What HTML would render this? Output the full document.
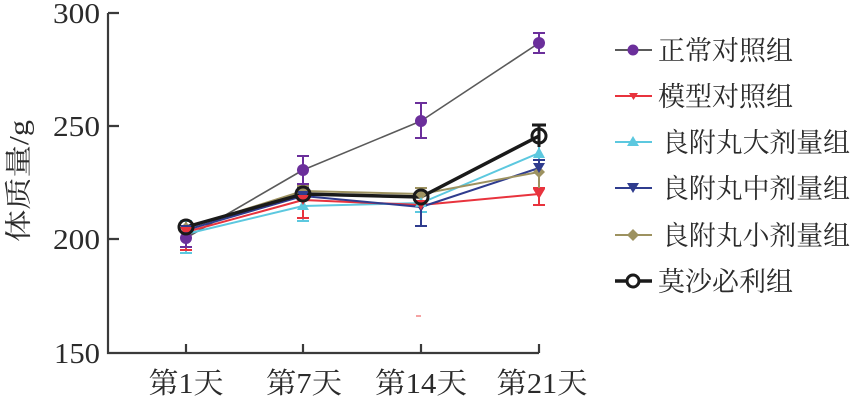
<!DOCTYPE html>
<html><head><meta charset="utf-8"><style>
html,body{margin:0;padding:0;background:#fff;}
svg{display:block;}
text{font-family:"Liberation Serif","Noto Serif CJK SC",serif;fill:#2b2b2b;}
</style></head><body>
<svg width="850" height="401" viewBox="0 0 850 401" xmlns="http://www.w3.org/2000/svg">
<!-- axes -->
<g stroke="#3a3a3a" stroke-width="2.2" fill="none">
<path d="M108 13 V353 H539"/>
<path d="M108 13 H119 M108 126 H119 M108 239 H119"/>
<path d="M186 353 V344 M303 353 V344 M421 353 V344 M539 353 V344"/>
</g>
<!-- y tick labels -->
<g font-size="28" text-anchor="end">
<text x="100" y="23" textLength="47" lengthAdjust="spacingAndGlyphs">300</text>
<text x="100" y="136" textLength="47" lengthAdjust="spacingAndGlyphs">250</text>
<text x="100" y="249" textLength="47" lengthAdjust="spacingAndGlyphs">200</text>
<text x="100" y="363" textLength="46" lengthAdjust="spacingAndGlyphs">150</text>
</g>
<!-- y label -->
<text transform="translate(28,181) rotate(-90)" font-size="27" text-anchor="middle" textLength="122" lengthAdjust="spacingAndGlyphs">体质量/g</text>
<!-- x labels -->
<g font-size="29" text-anchor="middle">
<text x="186" y="393" textLength="75" lengthAdjust="spacingAndGlyphs">第1天</text>
<text x="304" y="393" textLength="76" lengthAdjust="spacingAndGlyphs">第7天</text>
<text x="421" y="393" textLength="92" lengthAdjust="spacingAndGlyphs">第14天</text>
<text x="542" y="393" textLength="91" lengthAdjust="spacingAndGlyphs">第21天</text>
</g>
<!-- stray mark -->
<path d="M416 316 H421" stroke="#e66" stroke-width="1.2"/>

<!-- error bars -->
<g stroke-width="2" fill="none">
<!-- cyan -->
<path stroke="#5cc8df" d="M186 221 V253 M180 221 H192 M180 253 H192 M303 205 V221 M297 221 H309 M421 195 V212 M415 212 H427 M539 140 V165"/>
<!-- red -->
<path stroke="#e8333d" d="M186 232 V250 M180 250 H192 M303 200 V218 M297 218 H309 M539 188 V205 M533 188 H545 M533 205 H545"/>
<!-- navy -->
<path stroke="#2f3c8e" d="M186 224 V236 M303 188 V204 M297 188 H309 M421 190 V226 M415 226 H427 M539 160 V178 M533 160 H545"/>
<!-- khaki -->
<path stroke="#9d9260" d="M186 222 V234 M303 186 V198 M297 186 H309 M421 188 V200 M415 188 H427 M539 164 V188"/>
<!-- purple -->
<path stroke="#6b2f9b" d="M186 231 V247 M180 247 H192 M303 156 V184 M297 156 H309 M297 184 H309 M421 103 V138 M415 103 H427 M415 138 H427 M539 33 V53 M533 33 H545 M533 53 H545"/>
<!-- black -->
<path stroke="#1a1a1a" stroke-width="3" d="M539 125 V147 M532 125 H546"/>
</g>

<!-- series lines -->
<g fill="none" stroke-linejoin="round">
<polyline stroke="#5a5a5a" stroke-width="1.6" points="186,238 303,170 421,121 539,43"/>
<polyline stroke="#5cc8df" stroke-width="2" points="186,234 303,206 421,203 539,153"/>
<polyline stroke="#e8333d" stroke-width="2" points="186,232 303,200 421,205 539,194"/>
<polyline stroke="#2f3c8e" stroke-width="2" points="186,230 303,196 421,207 539,168"/>
<polyline stroke="#9d9260" stroke-width="2" points="186,228 303,191 421,194 539,172"/>
<polyline stroke="#1a1a1a" stroke-width="3.5" points="186,227 303,194 421,197 539,136"/>
</g>

<!-- markers -->
<g>
<!-- khaki diamonds -->
<g fill="#9d9260">
<path d="M186 222 l6 6 l-6 6 l-6 -6z"/><path d="M303 185 l6 6 l-6 6 l-6 -6z"/><path d="M421 188 l6 6 l-6 6 l-6 -6z"/><path d="M539 166 l6 6 l-6 6 l-6 -6z"/>
</g>
<!-- navy down triangles -->
<g fill="#2f3c8e">
<path d="M180 225 H192 L186 235z"/><path d="M297 191 H309 L303 201z"/><path d="M415 202 H427 L421 212z"/><path d="M533 163 H545 L539 173z"/>
</g>
<!-- cyan up triangles -->
<g fill="#5cc8df">
<path d="M186 228 L192 238 H180z"/><path d="M303 200 L309 210 H297z"/><path d="M421 197 L427 207 H415z"/><path d="M539 147 L545 158 H533z"/>
</g>
<!-- red down triangles -->
<g fill="#e8333d">
<path d="M180 227 H192 L186 237z"/><path d="M297 195 H309 L303 205z"/><path d="M415 200 H427 L421 210z"/><path d="M533 189 H545 L539 199z"/>
</g>
<!-- purple circles -->
<g fill="#6b2f9b">
<circle cx="186" cy="238" r="6"/><circle cx="303" cy="170" r="6"/><circle cx="421" cy="121" r="6"/><circle cx="539" cy="43" r="6"/>
</g>
<!-- black open circles -->
<g fill="none" stroke="#1a1a1a" stroke-width="3">
<circle cx="186" cy="227" r="7"/><circle cx="303" cy="194" r="7"/><circle cx="421" cy="197" r="7"/><circle cx="539" cy="136" r="7"/>
</g>
</g>

<!-- legend -->
<g>
<path d="M615 50 H652" stroke="#5a5a5a" stroke-width="2"/><circle cx="633" cy="50" r="5.5" fill="#6b2f9b"/>
<path d="M615 96 H652" stroke="#e8333d" stroke-width="2"/><path d="M629 93 H638 L633.5 100z" fill="#e8333d"/>
<path d="M615 142 H652" stroke="#5cc8df" stroke-width="2"/><path d="M633 136 L639 146 H627z" fill="#5cc8df"/>
<path d="M615 188 H652" stroke="#2f3c8e" stroke-width="2"/><path d="M627 183 H639 L633 193z" fill="#2f3c8e"/>
<path d="M615 235 H652" stroke="#9d9260" stroke-width="2"/><path d="M633 229 l6 6 l-6 6 l-6 -6z" fill="#9d9260"/>
<path d="M615 281 H652" stroke="#1a1a1a" stroke-width="3.5"/><circle cx="633" cy="281" r="6" fill="#fff" stroke="#1a1a1a" stroke-width="3"/>
</g>
<g font-size="27">
<text x="658" y="60" textLength="135" lengthAdjust="spacingAndGlyphs">正常对照组</text>
<text x="658" y="106" textLength="135" lengthAdjust="spacingAndGlyphs">模型对照组</text>
<text x="662" y="152" textLength="188" lengthAdjust="spacingAndGlyphs">良附丸大剂量组</text>
<text x="662" y="198" textLength="188" lengthAdjust="spacingAndGlyphs">良附丸中剂量组</text>
<text x="662" y="245" textLength="188" lengthAdjust="spacingAndGlyphs">良附丸小剂量组</text>
<text x="658" y="291" textLength="135" lengthAdjust="spacingAndGlyphs">莫沙必利组</text>
</g>
</svg>
</body></html>
